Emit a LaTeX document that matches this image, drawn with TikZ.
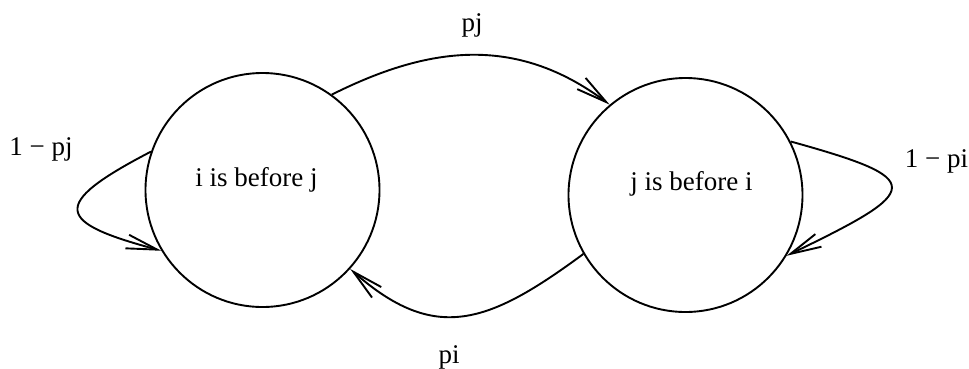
\documentclass[tikz,border=0pt]{standalone}
\usepackage{fontspec}
\setmainfont{Liberation Serif}
\usetikzlibrary{arrows.meta}
\begin{document}
\begin{tikzpicture}[x=1pt,y=-1pt,
  state/.style={circle,draw,line width=1.9pt,minimum size=234pt,inner sep=0pt},
  lbl/.style={anchor=base,inner sep=0pt,font=\fontsize{27}{32}\selectfont},
  edge/.style={line width=1.9pt,-{Straight Barb[length=31pt,width=14pt,line width=1.9pt]}}]
\useasboundingbox (0,0) rectangle (969,368);
\node[state] (A) at (262.5,190) {};
\node[state] (B) at (685.5,195) {};
\node[lbl] (At) at (256.5,186) {i is before j};
\node[lbl] (Bt) at (691.5,190) {j is before i};
\node[lbl] (pj) at (472,31) {pj};
\node[lbl] (pi) at (449,363) {pi};
\node[lbl] (lpj) at (41,155) {1 − pj};
\node[lbl] (lpi) at (936.5,167) {1 − pi};
\draw[edge] (A.54) .. controls +(95,-47.5) and +(-95,-71) .. (B.130);
\draw[edge] (B.210) .. controls +(-95,70) and +(85,75) .. (A.318);
\draw[edge] (A.161) .. controls +(-104,54) and +(-104,-28) .. (A.211);
\draw[edge] (B.27) .. controls +(137,38) and +(137,-66) .. (B.329);
\end{tikzpicture}
\end{document}
